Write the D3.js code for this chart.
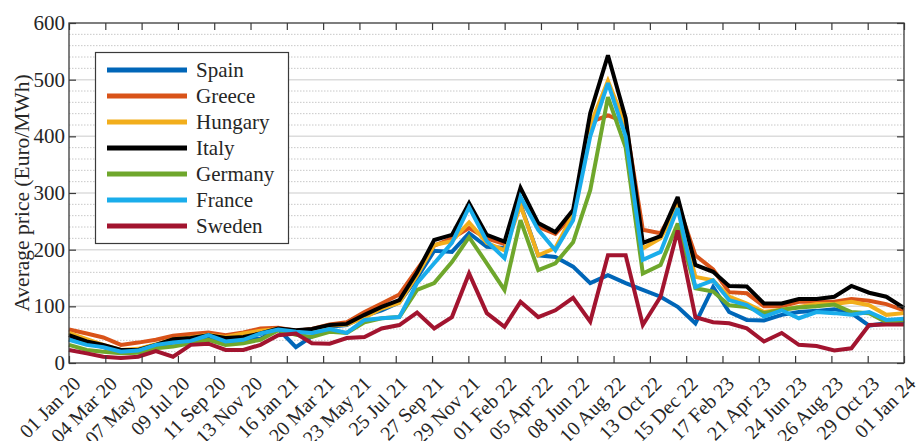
<!DOCTYPE html>
<html>
<head>
<meta charset="utf-8">
<script src="https://cdn.jsdelivr.net/npm/d3@7"></script>
<style>
  html, body { margin: 0; padding: 0; background: #fff; }
  svg { display: block; }
  text { font-family: "Liberation Serif", "Times New Roman", serif; fill: #262626; }
</style>
</head>
<body>
<svg id="chart" width="917" height="441"></svg>
<script>
// Monthly average day-ahead electricity prices, Jan 2020 – Jan 2024 (Euro/MWh)
const firstMonth = Date.UTC(2020, 0, 1);
const lastMonth = Date.UTC(2024, 0, 1);
const months = d3.utcMonth.range(new Date(firstMonth), new Date(Date.UTC(2024, 1, 1)));

const countries = ["Spain", "Greece", "Hungary", "Italy", "Germany", "France", "Sweden"];

const spain   = [42,36,28,19,22,30,36,38,43,36,42,43,60,28,47,64,67,83,93,107,150,198,196,229,205,203,280,190,187,170,141,155,141,129,117,99,70,134,90,76,75,85,90,92,95,88,66,70,74];
const greece  = [59,52,45,32,36,41,48,51,54,49,54,61,62,57,60,68,72,90,105,121,165,207,220,238,220,210,290,240,228,262,425,437,425,235,229,282,190,165,125,123,100,100,108,108,108,113,110,104,93];
const hungary = [53,42,32,23,25,33,42,45,50,46,52,57,60,55,58,66,68,80,96,106,155,208,215,248,212,199,278,190,203,262,420,498,420,202,220,275,152,146,117,105,90,94,99,104,104,108,102,85,88];
const italy   = [49,38,32,23,23,32,42,44,49,44,46,52,61,58,60,67,69,85,99,111,160,217,226,282,226,214,309,247,231,270,441,543,432,212,224,293,173,161,136,135,105,105,113,113,117,136,124,117,97];
const germany = [32,23,20,17,18,26,29,35,41,32,35,41,58,50,46,55,53,72,79,81,129,141,178,222,176,129,252,164,176,213,305,469,380,158,173,246,132,126,102,99,88,94,98,100,103,90,88,72,76];
const france  = [41,32,28,20,22,32,36,39,49,38,41,52,59,55,53,60,53,76,79,81,141,176,212,275,215,185,293,235,199,252,400,494,400,182,196,273,134,146,111,102,82,93,79,90,88,85,90,76,78];
const sweden  = [23,17,11,9,11,21,11,32,34,23,23,32,49,52,35,34,44,46,61,67,89,61,81,158,88,64,108,81,93,115,73,190,190,67,117,234,81,72,70,61,38,53,32,30,22,26,67,68,68];

const seriesValues = [spain, greece, hungary, italy, germany, france, sweden];
const colors = ["#0066B8", "#D95319", "#F2AE1C", "#000000", "#6FA72C", "#1AADEB", "#A2142F"];

const xTickLabels = ["01 Jan 20","04 Mar 20","07 May 20","09 Jul 20","11 Sep 20","13 Nov 20",
  "16 Jan 21","20 Mar 21","23 May 21","25 Jul 21","27 Sep 21","29 Nov 21",
  "01 Feb 22","05 Apr 22","08 Jun 22","10 Aug 22","13 Oct 22","15 Dec 22",
  "17 Feb 23","21 Apr 23","24 Jun 23","26 Aug 23","29 Oct 23","01 Jan 24"];
const yTicks = [0, 100, 200, 300, 400, 500, 600];
const yLabel = "Average price (Euro/MWh)";

// Layout
const plot = { left: 69, top: 23, right: 904, bottom: 363 };
const svg = d3.select("#chart");

const x = d3.scaleUtc().domain([new Date(firstMonth), new Date(lastMonth)]).range([plot.left, plot.right]);
const y = d3.scaleLinear().domain([0, 600]).range([plot.bottom, plot.top]);

// Evenly spaced date ticks across the span
const xTickDates = xTickLabels.map((_, i) =>
  new Date(firstMonth + i * (lastMonth - firstMonth) / (xTickLabels.length - 1)));

// Grid: dotted minor lines every 20, solid major lines every 100
const minor = d3.range(20, 600, 20).filter(v => v % 100 !== 0);
svg.append("g").selectAll("line").data(minor).join("line")
  .attr("x1", plot.left).attr("x2", plot.right)
  .attr("y1", d => y(d)).attr("y2", d => y(d))
  .attr("stroke", "#c8c8c8").attr("stroke-width", 1)
  .attr("stroke-dasharray", "1.5,1.5");
svg.append("g").selectAll("line").data(yTicks.filter(v => v > 0 && v < 600)).join("line")
  .attr("x1", plot.left).attr("x2", plot.right)
  .attr("y1", d => y(d)).attr("y2", d => y(d))
  .attr("stroke", "#dcdcdc").attr("stroke-width", 1.5);

// Series lines
const line = d3.line().x((d, i) => x(months[i])).y(d => y(d));
svg.append("g").selectAll("path").data(seriesValues).join("path")
  .attr("d", d => line(d))
  .attr("fill", "none")
  .attr("stroke", (d, i) => colors[i])
  .attr("stroke-width", 4)
  .attr("stroke-linejoin", "miter")
  .attr("stroke-miterlimit", 3);

// Axes (box with inward ticks on all sides)
const tickLen = 7;
const axisColor = "#3a3a3a";
const bottomAxis = d3.axisBottom(x).tickValues(xTickDates).tickSize(-tickLen).tickFormat("");
const topAxis = d3.axisTop(x).tickValues(xTickDates).tickSize(-tickLen).tickFormat("");
const leftAxis = d3.axisLeft(y).tickValues(yTicks).tickSize(-tickLen).tickFormat("");
const rightAxis = d3.axisRight(y).tickValues(yTicks).tickSize(-tickLen).tickFormat("");

function styleAxis(g) {
  g.selectAll("path.domain").attr("stroke", axisColor).attr("stroke-width", 1.3);
  g.selectAll(".tick line").attr("stroke", axisColor).attr("stroke-width", 1.2);
}
svg.append("g").attr("transform", `translate(0,${plot.bottom})`).call(bottomAxis).call(styleAxis);
svg.append("g").attr("transform", `translate(0,${plot.top})`).call(topAxis).call(styleAxis);
svg.append("g").attr("transform", `translate(${plot.left},0)`).call(leftAxis).call(styleAxis);
svg.append("g").attr("transform", `translate(${plot.right},0)`).call(rightAxis).call(styleAxis);
svg.selectAll("path.domain").attr("d", null);
svg.append("rect")
  .attr("x", plot.left).attr("y", plot.top)
  .attr("width", plot.right - plot.left).attr("height", plot.bottom - plot.top)
  .attr("fill", "none").attr("stroke", axisColor).attr("stroke-width", 1.3);

// Y tick labels
svg.append("g").selectAll("text").data(yTicks).join("text")
  .attr("x", plot.left - 4).attr("y", d => y(d))
  .attr("text-anchor", "end").attr("dominant-baseline", "central")
  .attr("font-size", 21)
  .text(d => d);

// X tick labels, rotated
svg.append("g").selectAll("text").data(xTickDates).join("text")
  .attr("transform", d => `translate(${x(d) + 8},${plot.bottom + 17}) rotate(-45)`)
  .attr("text-anchor", "end").attr("dominant-baseline", "central")
  .attr("font-size", 20)
  .text((d, i) => xTickLabels[i]);

// Y axis title
svg.append("text")
  .attr("transform", `translate(22,${(plot.top + plot.bottom) / 2}) rotate(-90)`)
  .attr("text-anchor", "middle").attr("dominant-baseline", "central")
  .attr("font-size", 21.5)
  .text(yLabel);

// Legend
const legend = svg.append("g");
legend.append("rect")
  .attr("x", 95.5).attr("y", 52.5).attr("width", 193).attr("height", 191)
  .attr("fill", "#fff").attr("stroke", axisColor).attr("stroke-width", 1.2);
const rows = legend.selectAll("g").data(countries).join("g")
  .attr("transform", (d, i) => `translate(0,${70 + i * 26})`);
rows.append("line")
  .attr("x1", 107).attr("x2", 187).attr("y1", 0).attr("y2", 0)
  .attr("stroke", (d, i) => colors[i]).attr("stroke-width", 5);
rows.append("text")
  .attr("x", 196).attr("y", 0)
  .attr("dominant-baseline", "central")
  .attr("font-size", 21)
  .text(d => d);
</script>
</body>
</html>
